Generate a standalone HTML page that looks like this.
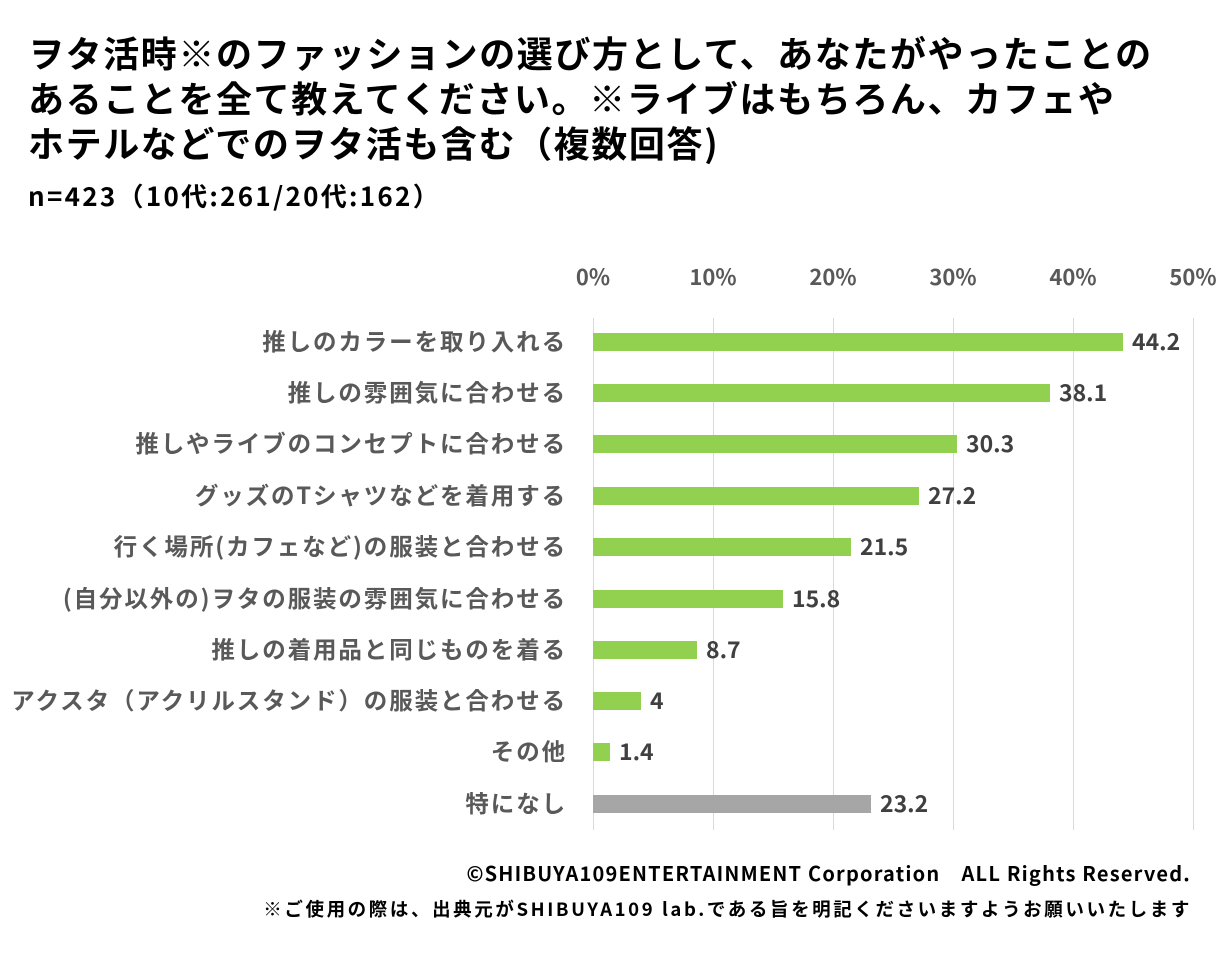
<!DOCTYPE html>
<html><head><meta charset="utf-8"><style>
body{margin:0;width:1229px;height:964px;background:#fff;font-family:"Noto Sans CJK JP","Liberation Sans",sans-serif;position:relative;overflow:hidden}
.t{position:absolute;left:28px;font-weight:bold;color:#000;font-size:36px;line-height:45px;top:30px;white-space:nowrap;letter-spacing:1.6px}
.n{position:absolute;left:28px;top:177px;font-weight:bold;font-size:26px;white-space:nowrap;letter-spacing:2.3px}
.f1{position:absolute;right:38px;top:858px;font-weight:bold;font-size:20px;color:#000;white-space:nowrap;letter-spacing:1.2px}
.f2{position:absolute;right:37px;top:896px;font-weight:bold;font-size:18.5px;color:#000;white-space:nowrap;letter-spacing:2.6px}
</style></head><body>
<div class="t">ヲタ活時※のファッションの選び方として、あなたがやったことの<br>あることを全て教えてください。※ライブはもちろん、カフェや<br>ホテルなどでのヲタ活も含む（複数回答)</div>
<div class="n">n=423（10代:261/20代:162）</div>
<svg width="1229" height="964" style="position:absolute;left:0;top:0" font-family="Noto Sans CJK JP, Liberation Sans, sans-serif">
<g stroke="#d9d9d9" stroke-width="1">
<line x1="593.5" y1="318" x2="593.5" y2="830"/><line x1="713.5" y1="318" x2="713.5" y2="830"/><line x1="833.5" y1="318" x2="833.5" y2="830"/><line x1="953.5" y1="318" x2="953.5" y2="830"/><line x1="1073.5" y1="318" x2="1073.5" y2="830"/><line x1="1193.5" y1="318" x2="1193.5" y2="830"/>
</g>
<g font-size="22" fill="#595959" text-anchor="middle" font-weight="bold">
<text x="593" y="285">0%</text><text x="713" y="285">10%</text><text x="833" y="285">20%</text><text x="953" y="285">30%</text><text x="1073" y="285">40%</text><text x="1193" y="285">50%</text>
</g>
<g fill="#92d050">
<rect x="593" y="333" width="530" height="18"/>
<rect x="593" y="384" width="457" height="18"/>
<rect x="593" y="435" width="364" height="18"/>
<rect x="593" y="487" width="326" height="18"/>
<rect x="593" y="538" width="258" height="18"/>
<rect x="593" y="590" width="190" height="18"/>
<rect x="593" y="641" width="104" height="18"/>
<rect x="593" y="692" width="48" height="18"/>
<rect x="593" y="743" width="17" height="18"/>
</g>
<rect x="593" y="795" width="278" height="18" fill="#a6a6a6"/>
<g font-size="23" fill="#404040" font-weight="bold">
<text x="1132" y="350">44.2</text><text x="1059" y="401">38.1</text><text x="966" y="452">30.3</text><text x="928" y="504">27.2</text><text x="860" y="555">21.5</text><text x="792" y="607">15.8</text><text x="706" y="658">8.7</text><text x="650" y="709">4</text><text x="619" y="760">1.4</text><text x="880" y="812">23.2</text>
</g>
<g font-size="23.5" fill="#595959" text-anchor="end" font-weight="bold" letter-spacing="1.9">
<text x="567" y="350">推しのカラーを取り入れる</text>
<text x="567" y="401">推しの雰囲気に合わせる</text>
<text x="567" y="452">推しやライブのコンセプトに合わせる</text>
<text x="567" y="504">グッズのTシャツなどを着用する</text>
<text x="567" y="555">行く場所(カフェなど)の服装と合わせる</text>
<text x="567" y="607">(自分以外の)ヲタの服装の雰囲気に合わせる</text>
<text x="567" y="658">推しの着用品と同じものを着る</text>
<text x="567" y="709">アクスタ（アクリルスタンド）の服装と合わせる</text>
<text x="567" y="760">その他</text>
<text x="567" y="812">特になし</text>
</g>
</svg>
<div class="f1">©SHIBUYA109ENTERTAINMENT Corporation　ALL Rights Reserved.</div>
<div class="f2">※ご使用の際は、出典元がSHIBUYA109 lab.である旨を明記くださいますようお願いいたします</div>
</body></html>
